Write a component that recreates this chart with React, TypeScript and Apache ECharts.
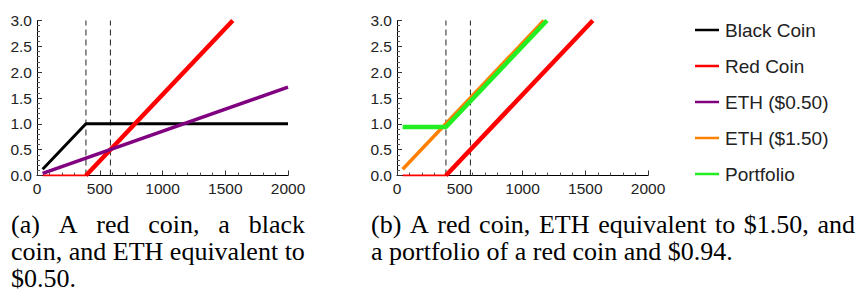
import React, { useEffect, useRef } from 'react';
import * as echarts from 'echarts';

// ---- data ----
const seriesNames = ['Black Coin', 'Red Coin', 'ETH ($0.50)', 'ETH ($1.50)', 'Portfolio'];
const seriesColors = ['#000000', '#ff0000', '#800080', '#ff8000', '#22ee22'];

const blackCoinX = [45, 390, 2000];
const blackCoinY = [0.12, 1.0, 1.0];
const redCoinX = [45, 390, 1560];
const redCoinY = [0, 0, 3.0];
const eth050X = [45, 2000];
const eth050Y = [0.04, 1.71];
const eth150X = [45, 1170];
const eth150Y = [0.12, 3.0];
const portfolioX = [45, 390, 1195];
const portfolioY = [0.94, 0.94, 3.0];
const dashedX = [390, 585];

const xTickLabels = ['0', '500', '1000', '1500', '2000'];
const yTickLabels = ['0.0', '0.5', '1.0', '1.5', '2.0', '2.5', '3.0'];

const captionAWords = ['(a)', 'A', 'red', 'coin,', 'a', 'black'];
const captionALines = ['coin, and ETH equivalent to', '$0.50.'];
const captionBWords = ['(b)', 'A', 'red', 'coin,', 'ETH', 'equivalent', 'to', '$1.50,', 'and'];
const captionBLines = ['a portfolio of a red coin and $0.94.'];

// ---- layout ----
const captionFont = '26px "Liberation Serif"';
const lineY = [224, 251, 278];
const colA = [11, 305];
const colB = [371, 855];

const pairs = (xs: number[], ys: number[]) => xs.map((x, i) => [x, ys[i]]);

function justify(words: string[], left: number, right: number): number[] {
  const ctx = document.createElement('canvas').getContext('2d')!;
  ctx.font = captionFont;
  const widths = words.map((w) => ctx.measureText(w).width);
  const total = widths.reduce((a, b) => a + b, 0);
  const gap = (right - left - total) / (words.length - 1);
  const xs: number[] = [];
  let x = left;
  widths.forEach((w) => {
    xs.push(x);
    x += w + gap;
  });
  return xs;
}

export default function App() {
  const ref = useRef<HTMLDivElement>(null);
  useEffect(() => {
    document.body.style.margin = '0';
    if (!ref.current) return;
    const chart = echarts.init(ref.current, undefined, { renderer: 'svg' });

    const labelStyle = { color: '#222', fontFamily: 'Liberation Sans', fontSize: 15.5 };
    const mkX = (gridIndex: number) => ({
      type: 'value',
      gridIndex,
      min: 0,
      max: 2000,
      interval: 500,
      axisLine: { show: true, onZero: false, lineStyle: { color: '#000', width: 1 } },
      axisTick: { show: true, inside: true, length: 5, lineStyle: { color: '#333' } },
      minorTick: { show: true, splitNumber: 5, length: 3, lineStyle: { color: '#555' } },
      splitLine: { show: false },
      axisLabel: {
        margin: 5,
        ...labelStyle,
        formatter: (v: number) => xTickLabels[Math.round(v / 500)] ?? '',
      },
    });
    const mkY = (gridIndex: number) => ({
      type: 'value',
      gridIndex,
      min: 0,
      max: 3,
      interval: 0.5,
      axisLine: { show: true, onZero: false, lineStyle: { color: '#000', width: 1 } },
      axisTick: { show: true, inside: true, length: 5, lineStyle: { color: '#333' } },
      minorTick: { show: true, splitNumber: 5, length: 3, lineStyle: { color: '#555' } },
      splitLine: { show: false },
      axisLabel: {
        margin: 5,
        ...labelStyle,
        formatter: (v: number) => yTickLabels[Math.round(v / 0.5)] ?? '',
      },
    });

    const lineSeries = (name: string, xs: number[], ys: number[], idx: number, width: number, color: string) => ({
      type: 'line',
      name,
      xAxisIndex: idx,
      yAxisIndex: idx,
      data: pairs(xs, ys),
      symbol: 'none',
      color,
      lineStyle: { color, width },
      silent: true,
    });
    // red coin: flat part drawn thin (hugging the axis), rising part thick
    const redSeries = (idx: number) => [
      lineSeries(seriesNames[1], redCoinX.slice(0, 2), redCoinY.slice(0, 2), idx, 2, seriesColors[1]),
      lineSeries(seriesNames[1], redCoinX.slice(1), redCoinY.slice(1), idx, 4.5, seriesColors[1]),
    ];
    const dashSeries = (x: number, idx: number) => ({
      type: 'line',
      xAxisIndex: idx,
      yAxisIndex: idx,
      data: [[x, 0], [x, 3]],
      symbol: 'none',
      silent: true,
      lineStyle: { color: '#222', width: 1, type: [6, 4] },
    });

    const txt = (text: string, x: number, y: number) => ({
      type: 'text', x, y, style: { text, font: captionFont, fill: '#000', verticalAlign: 'middle' },
    });
    const graphics: any[] = [];
    const ax = justify(captionAWords, colA[0], colA[1]);
    const bx = justify(captionBWords, colB[0], colB[1]);
    captionAWords.forEach((w, i) => graphics.push(txt(w, ax[i], lineY[0])));
    captionALines.forEach((t, i) => graphics.push(txt(t, colA[0], lineY[i + 1])));
    captionBWords.forEach((w, i) => graphics.push(txt(w, bx[i], lineY[0])));
    captionBLines.forEach((t, i) => graphics.push(txt(t, colB[0], lineY[i + 1])));

    chart.setOption({
      animation: false,
      grid: [
        { left: 37, top: 20.5, width: 251, height: 155 },
        { left: 397, top: 20.5, width: 251, height: 155 },
      ],
      xAxis: [mkX(0), mkX(1)],
      yAxis: [mkY(0), mkY(1)],
      legend: {
        data: seriesNames,
        orient: 'vertical',
        left: 690,
        top: 15,
        icon: 'rect',
        itemWidth: 24,
        itemHeight: 2.5,
        itemGap: 16,
        selectedMode: false,
        textStyle: { fontFamily: 'Liberation Sans', fontSize: 19, color: '#222', lineHeight: 20, padding: [0, 0, 0, 1] },
      },
      series: [
        dashSeries(dashedX[0], 0),
        dashSeries(dashedX[1], 0),
        dashSeries(dashedX[0], 1),
        dashSeries(dashedX[1], 1),
        lineSeries(seriesNames[0], blackCoinX, blackCoinY, 0, 3, seriesColors[0]),
        ...redSeries(0),
        lineSeries(seriesNames[2], eth050X, eth050Y, 0, 3.5, seriesColors[2]),
        ...redSeries(1),
        lineSeries(seriesNames[3], eth150X, eth150Y, 1, 3.5, seriesColors[3]),
        lineSeries(seriesNames[4], portfolioX, portfolioY, 1, 4.5, seriesColors[4]),
      ],
      graphic: graphics,
    });
    return () => chart.dispose();
  }, []);
  return <div ref={ref} style={{ width: 859, height: 299 }} />;
}
